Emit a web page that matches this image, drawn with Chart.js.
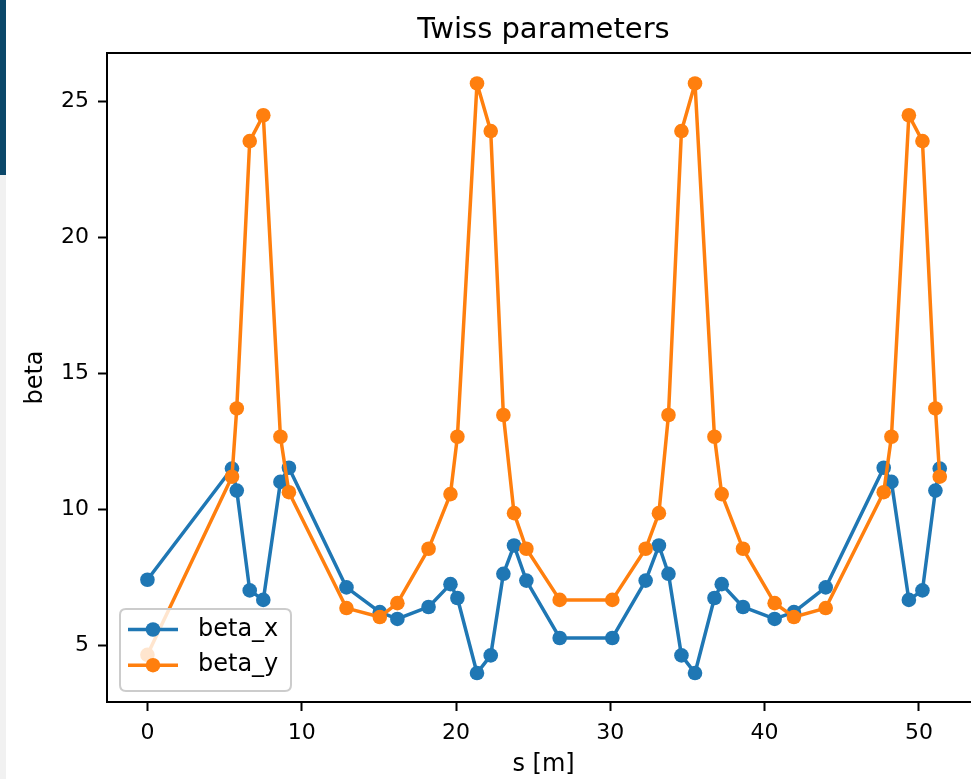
<!DOCTYPE html>
<html>
<head>
<meta charset="utf-8">
<title>Twiss parameters</title>
<style>
  html, body { margin: 0; padding: 0; background: #ffffff; overflow: hidden; }
  #wrap { position: relative; width: 971px; height: 779px; overflow: hidden; }
  #chart { position: absolute; left: 0; top: 0; }
  .strip_top { position: absolute; left: 0; top: 0; width: 6px; height: 175px; background: #0b4769; }
  .strip_side { position: absolute; left: 0; top: 175px; width: 6px; height: 604px; background: #f1f1f1; }
</style>
<script src="https://cdn.jsdelivr.net/npm/chart.js@4.4.1/dist/chart.umd.min.js"></script>
</head>
<body>
<div id="wrap">
  <canvas id="chart" width="1000" height="779"></canvas>
  <div class="strip_top"></div>
  <div class="strip_side"></div>
</div>
<script>
// s positions along the lattice [m]
var s_values = [0, 5.48, 5.79, 6.63, 7.51, 8.62, 9.17, 12.90, 15.06, 16.20,
    18.22, 19.64, 20.09, 21.36, 22.25, 23.07, 23.76, 24.56, 26.72, 30.13,
    32.29, 33.15, 33.77, 34.61, 35.49, 36.75, 37.22, 38.60, 40.65, 41.90,
    43.96, 47.72, 48.22, 49.35, 50.23, 51.07, 51.35];

var beta_x = [7.40, 11.49, 10.68, 7.01, 6.66, 11.00, 11.52, 7.12, 6.21, 5.96,
    6.40, 7.24, 6.73, 3.97, 4.62, 7.62, 8.66, 7.37, 5.26, 5.26,
    7.37, 8.66, 7.62, 4.62, 3.97, 6.73, 7.24, 6.40, 5.96, 6.21,
    7.12, 11.52, 11.00, 6.66, 7.01, 10.68, 11.49];

var beta_y = [4.64, 11.19, 13.70, 23.53, 24.48, 12.66, 10.62, 6.36, 6.03, 6.54,
    8.54, 10.55, 12.66, 25.65, 23.90, 13.46, 9.85, 8.54, 6.66, 6.66,
    8.54, 9.85, 13.46, 23.90, 25.65, 12.66, 10.55, 8.54, 6.54, 6.03,
    6.36, 10.62, 12.66, 24.48, 23.53, 13.70, 11.19];

var series_names = ['beta_x', 'beta_y'];
var x_ticks = [0, 10, 20, 30, 40, 50];
var y_ticks = [5, 10, 15, 20, 25];

var blue = '#1f77b4';
var orange = '#ff7f0e';
var font_family = "'DejaVu Sans', 'Liberation Sans', sans-serif";

function to_points(xs, ys) {
    var pts = [];
    for (var i = 0; i < xs.length; i++) {
        pts.push({x: xs[i], y: ys[i]});
    }
    return pts;
}

function round_rect(ctx, x, y, w, h, r) {
    ctx.beginPath();
    ctx.moveTo(x + r, y);
    ctx.lineTo(x + w - r, y);
    ctx.quadraticCurveTo(x + w, y, x + w, y + r);
    ctx.lineTo(x + w, y + h - r);
    ctx.quadraticCurveTo(x + w, y + h, x + w - r, y + h);
    ctx.lineTo(x + r, y + h);
    ctx.quadraticCurveTo(x, y + h, x, y + h - r);
    ctx.lineTo(x, y + r);
    ctx.quadraticCurveTo(x, y, x + r, y);
    ctx.closePath();
}

// top spine, title and a matplotlib-like legend box
var frame_plugin = {
    id: 'frame_plugin',
    afterDraw: function(chart) {
        var ctx = chart.ctx;
        var a = chart.chartArea;
        ctx.save();
        ctx.strokeStyle = '#000000';
        ctx.lineWidth = 2;
        ctx.beginPath();
        ctx.moveTo(a.left - 1, a.top);
        ctx.lineTo(a.right + 1, a.top);
        ctx.stroke();

        ctx.fillStyle = '#000000';
        ctx.font = '29px ' + font_family;
        ctx.textAlign = 'center';
        ctx.textBaseline = 'alphabetic';
        ctx.fillText('Twiss parameters', (a.left + a.right) / 2, 38);

        // legend, lower left
        var lx = a.left + 13, ly = a.bottom - 93, lw = 171, lh = 82;
        round_rect(ctx, lx, ly, lw, lh, 6);
        ctx.fillStyle = 'rgba(255,255,255,0.8)';
        ctx.fill();
        ctx.strokeStyle = '#cccccc';
        ctx.lineWidth = 2;
        ctx.stroke();

        var colors = [blue, orange];
        for (var i = 0; i < series_names.length; i++) {
            var yy = ly + 20.5 + i * 35.7;
            ctx.strokeStyle = colors[i];
            ctx.lineWidth = 3.5;
            ctx.beginPath();
            ctx.moveTo(lx + 8, yy);
            ctx.lineTo(lx + 58, yy);
            ctx.stroke();
            ctx.fillStyle = colors[i];
            ctx.beginPath();
            ctx.arc(lx + 33, yy, 7.3, 0, Math.PI * 2);
            ctx.fill();
            ctx.fillStyle = '#000000';
            ctx.font = '24px ' + font_family;
            ctx.textAlign = 'left';
            ctx.textBaseline = 'middle';
            ctx.fillText(series_names[i], lx + 78, yy);
        }
        ctx.restore();
    }
};

var ctx = document.getElementById('chart').getContext('2d');
var chart = new Chart(ctx, {
    type: 'line',
    data: {
        datasets: [
            {
                label: series_names[0],
                data: to_points(s_values, beta_x),
                borderColor: blue,
                backgroundColor: blue,
                pointBackgroundColor: blue,
                borderWidth: 3.5,
                pointRadius: 7.3,
                pointBorderWidth: 0,
                borderJoinStyle: 'round',
                tension: 0,
                order: 1
            },
            {
                label: series_names[1],
                data: to_points(s_values, beta_y),
                borderColor: orange,
                backgroundColor: orange,
                pointBackgroundColor: orange,
                borderWidth: 3.5,
                pointRadius: 7.3,
                pointBorderWidth: 0,
                borderJoinStyle: 'round',
                tension: 0,
                order: 0
            }
        ]
    },
    options: {
        responsive: false,
        animation: false,
        events: [],
        layout: {padding: {left: 0, top: 53, right: 20, bottom: 0}},
        plugins: {
            legend: {display: false},
            tooltip: {enabled: false},
            title: {display: false}
        },
        scales: {
            x: {
                type: 'linear',
                min: -2.62,
                max: 53.96,
                afterFit: function(scale) { scale.height = 77; },
                afterBuildTicks: function(scale) {
                    scale.ticks = x_ticks.map(function(v) { return {value: v}; });
                },
                grid: {drawOnChartArea: false, drawTicks: true, tickLength: 9, tickWidth: 2, tickColor: '#000000'},
                border: {display: true, color: '#000000', width: 2},
                ticks: {color: '#000000', padding: 9, maxRotation: 0, font: {family: font_family, size: 22}},
                title: {display: true, text: 's [m]', color: '#000000', padding: {top: 0, bottom: 0},
                    font: {family: font_family, size: 24}}
            },
            y: {
                type: 'linear',
                min: 2.906,
                max: 26.77,
                afterFit: function(scale) { scale.width = 107; },
                afterBuildTicks: function(scale) {
                    scale.ticks = y_ticks.map(function(v) { return {value: v}; });
                },
                grid: {drawOnChartArea: false, drawTicks: true, tickLength: 9, tickWidth: 2, tickColor: '#000000'},
                border: {display: true, color: '#000000', width: 2},
                ticks: {color: '#000000', padding: 9, font: {family: font_family, size: 22}},
                title: {display: true, text: 'beta', color: '#000000', padding: {top: 21, bottom: 0},
                    font: {family: font_family, size: 24}}
            }
        }
    },
    plugins: [frame_plugin]
});
</script>
</body>
</html>
